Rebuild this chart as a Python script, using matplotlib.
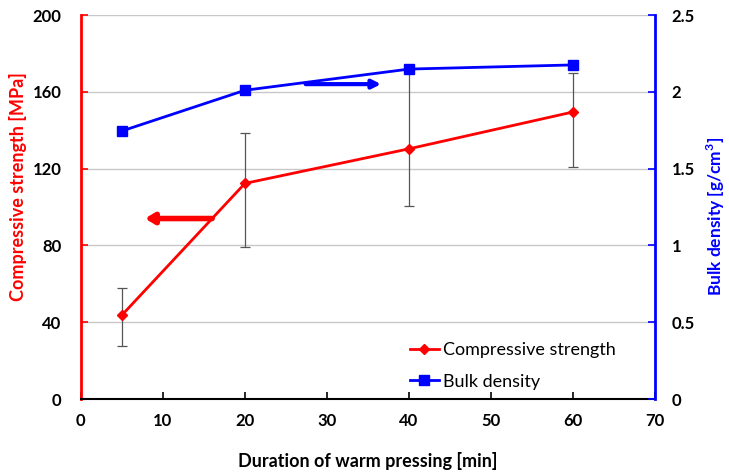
import matplotlib
matplotlib.use("Agg")
import matplotlib.pyplot as plt

plt.rcParams['font.family'] = ['Lato', 'DejaVu Sans']

# data
duration = [5, 20, 40, 60]
strength = [43.7, 112.3, 130.3, 149.5]
strength_err_low = [15.9, 33.0, 29.6, 28.5]
strength_err_high = [14.0, 26.4, 41.0, 20.5]
density = [1.745, 2.01, 2.148, 2.175]

fig = plt.figure(figsize=(7.29, 4.75), dpi=100)
ax = fig.add_axes([0.111, 0.16, 0.7875, 0.8084])
ax2 = ax.twinx()

# error bars first so the lines sit on top
ax.errorbar(duration, strength, yerr=[strength_err_low, strength_err_high],
            fmt='none', ecolor='#555555', elinewidth=0.9, capsize=3.5, capthick=0.9, zorder=2)
l1, = ax.plot(duration, strength, color='#ff0000', lw=2, marker='D', ms=5,
              label='Compressive strength', zorder=3)
l2, = ax2.plot(duration, density, color='#0000ff', lw=2, marker='s', ms=7,
               label='Bulk density', zorder=3)

ax.set_xlim(0, 70)
ax.set_ylim(0, 200)
ax2.set_ylim(0, 2.5)
ax.set_xticks(range(0, 71, 10))
ax.set_yticks(range(0, 201, 40))
ax2.set_yticks([0, 0.5, 1, 1.5, 2, 2.5])
ax2.set_yticklabels(['0', '0.5', '1', '1.5', '2', '2.5'])

ax.yaxis.grid(True, color='#c8c8c8', lw=1)
ax.set_axisbelow(True)

for a in (ax, ax2):
    a.tick_params(direction='in', length=5, width=1.2, labelsize=12, pad=14)
    for lab in a.get_xticklabels() + a.get_yticklabels():
        lab.set_fontweight('bold')
ax.tick_params(axis='y', colors='#ff0000', labelcolor='black')
ax2.tick_params(axis='y', colors='#0000ff', labelcolor='black', pad=12)
ax.tick_params(axis='x', pad=10)

ax.spines['top'].set_visible(False)
ax2.spines['top'].set_visible(False)
ax.spines['left'].set_color('#ff0000')
ax.spines['left'].set_linewidth(2)
ax2.spines['left'].set_visible(False)
ax2.spines['right'].set_color('#0000ff')
ax2.spines['right'].set_linewidth(2)
ax.spines['right'].set_visible(False)
ax.spines['bottom'].set_linewidth(1.5)
ax2.spines['bottom'].set_visible(False)

ax.set_xlabel('Duration of warm pressing [min]', fontsize=13, fontweight='bold', labelpad=17)
fig.text(18 / 729, 1 - 187 / 475, 'Compressive strength [MPa]', rotation=90,
         fontsize=13, fontweight='bold', color='#ff0000', ha='center', va='center')
fig.text(716 / 729, 1 - 216 / 475, 'Bulk density [g/cm$^\\mathregular{3}$]', rotation=90,
         fontsize=12.5, fontweight='bold', color='#0000ff', ha='center', va='center')

# arrows pointing to each series' axis
ax.annotate('', xy=(7.8, 94), xytext=(16.0, 94),
            arrowprops=dict(arrowstyle='-|>,head_length=0.5,head_width=0.3',
                            color='#ff0000', lw=4, shrinkA=0, shrinkB=0))
ax2.annotate('', xy=(36.6, 2.05), xytext=(27.4, 2.05),
             arrowprops=dict(arrowstyle='-|>,head_length=0.5,head_width=0.25',
                             color='#0000ff', lw=3, shrinkA=0, shrinkB=0))

leg = ax2.legend(handles=[l1, l2], loc='lower left', bbox_to_anchor=(0.545, -0.018),
                 frameon=False, fontsize=13, handlelength=1.6, handletextpad=0.2,
                 labelspacing=0.85)

fig.savefig('out.png', dpi=100)
